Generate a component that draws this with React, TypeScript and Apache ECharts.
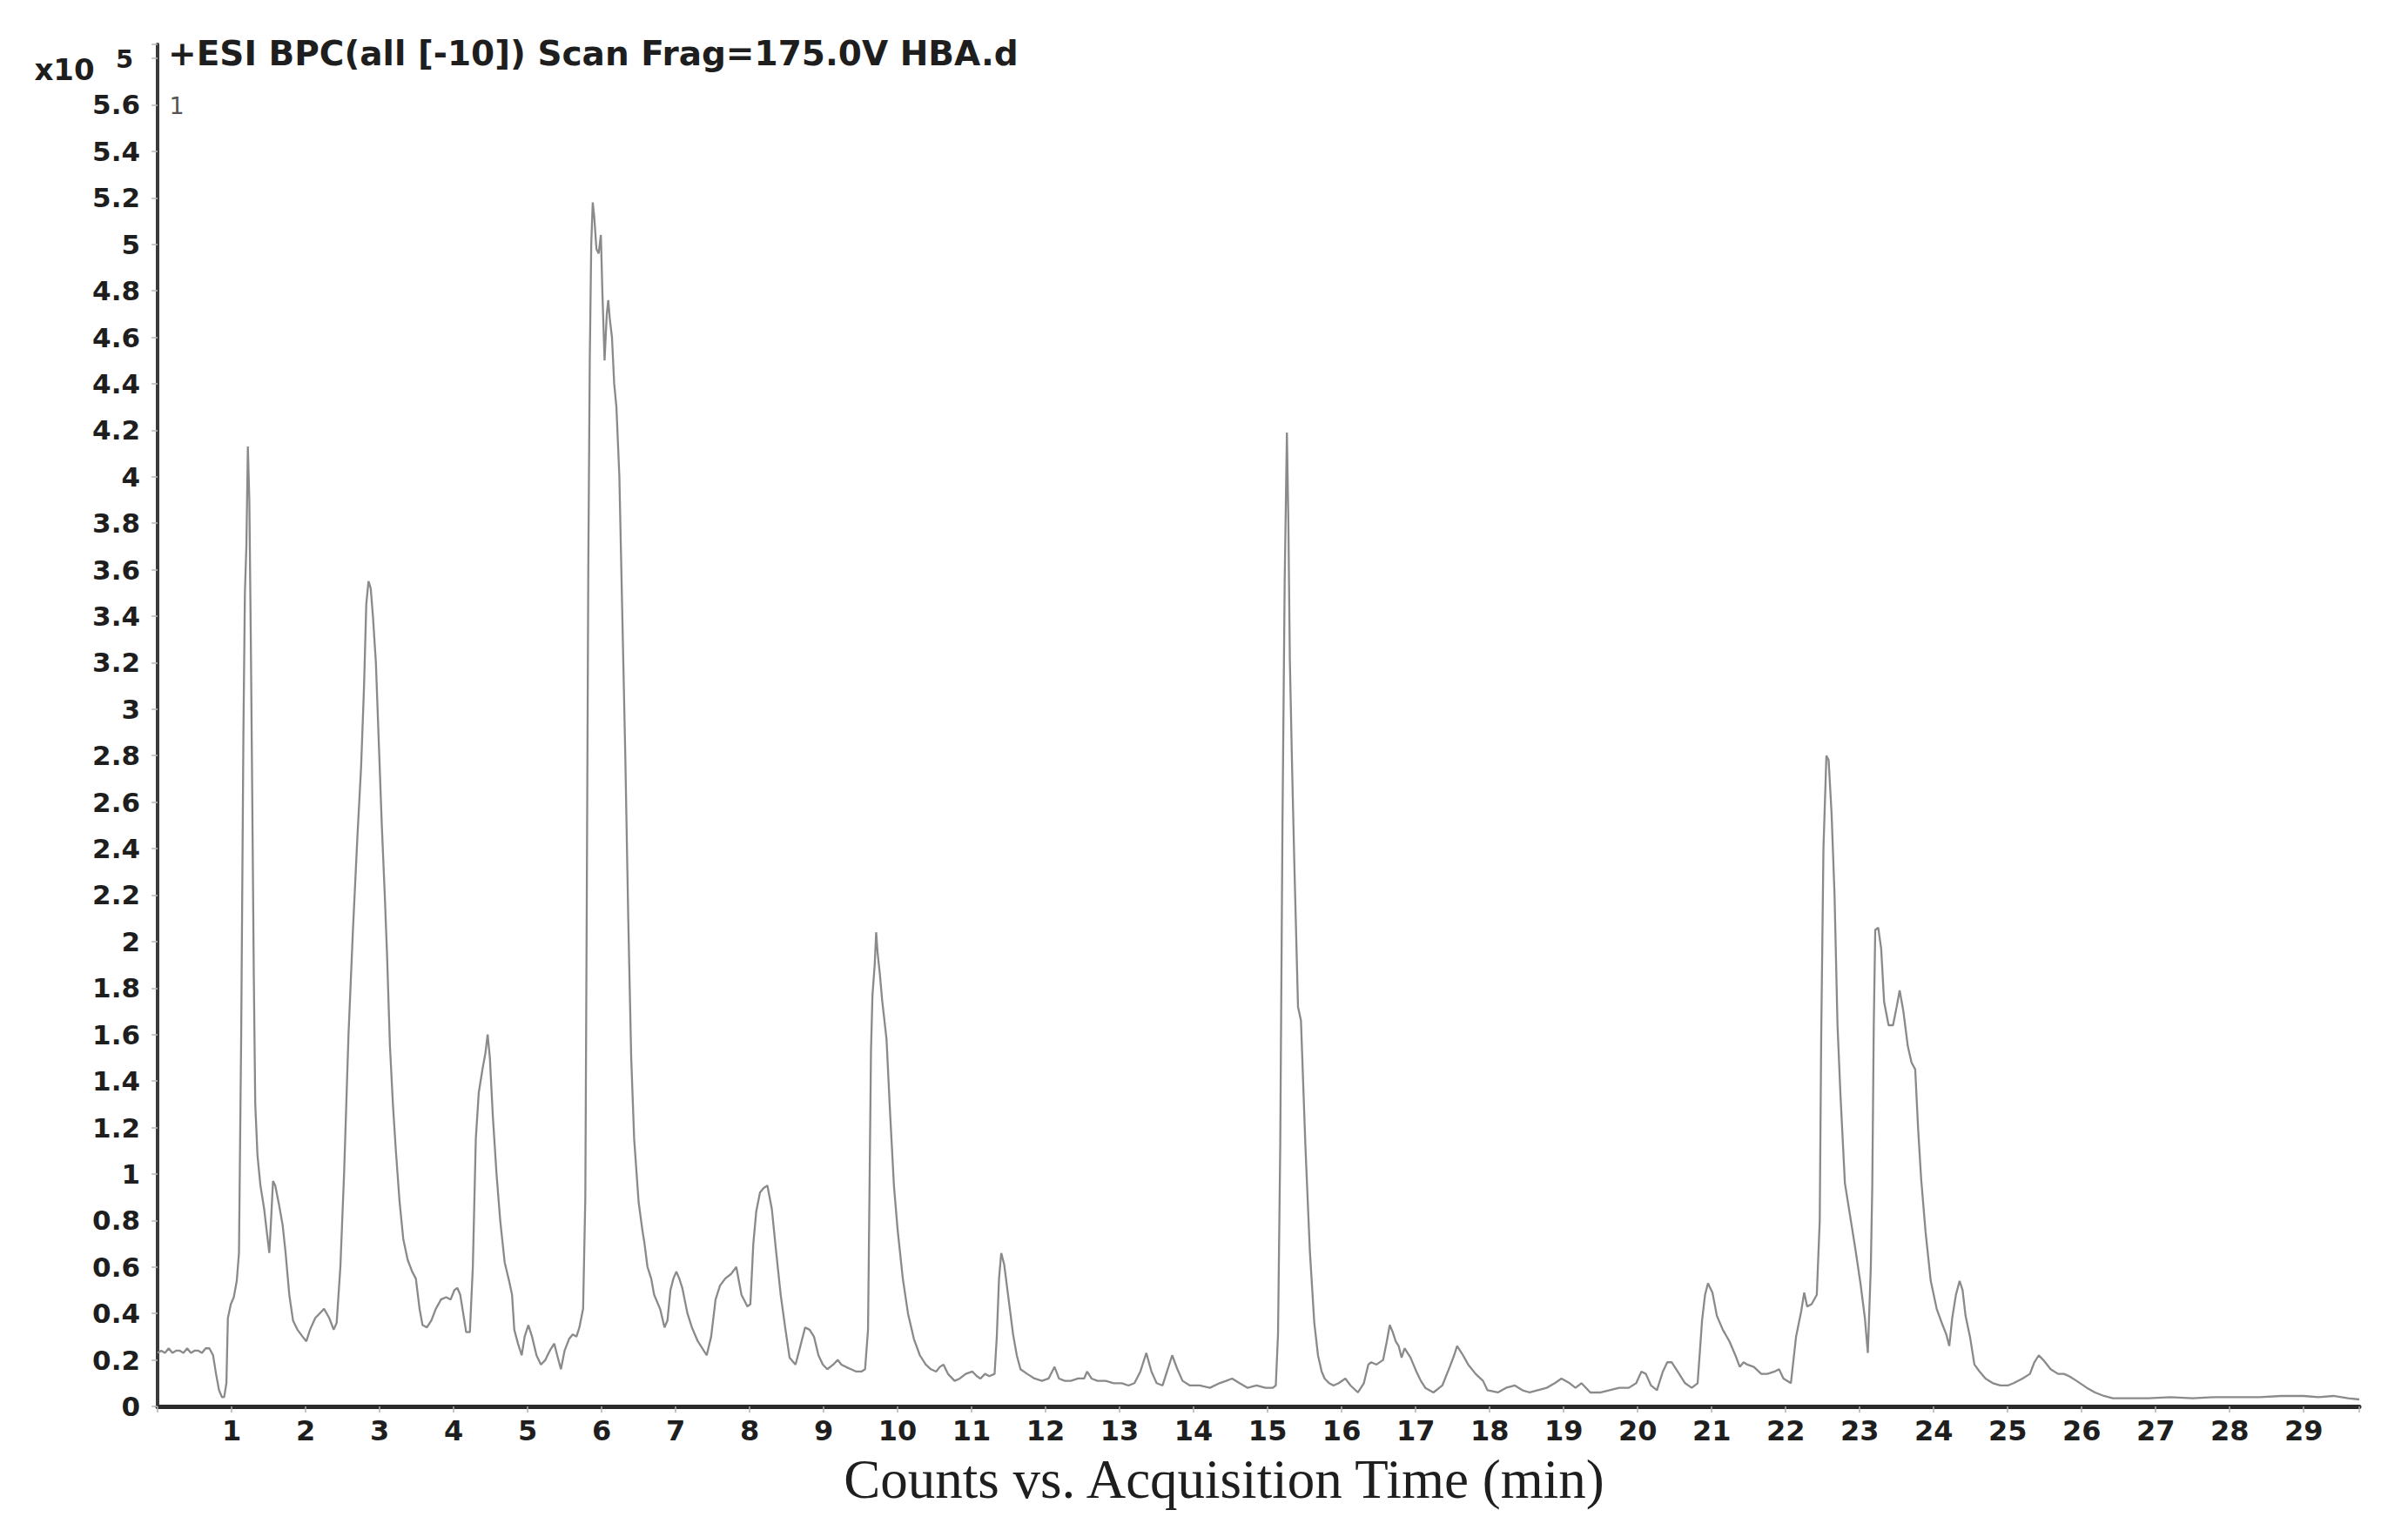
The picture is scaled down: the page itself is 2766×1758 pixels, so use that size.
import React, { useEffect, useRef } from 'react';
import * as echarts from 'echarts';

const TITLE = '+ESI BPC(all [-10]) Scan Frag=175.0V HBA.d';
const X_AXIS_TITLE = 'Counts vs. Acquisition Time (min)';
const Y_SCALE_PREFIX = 'x10';
const Y_SCALE_EXPONENT = '5';
const TRACE_LABEL = '1';

const X_MIN = 0;
const X_MAX = 29.75;
const X_INTERVAL = 1;
const Y_MIN = 0;
const Y_MAX = 5.86;
const Y_INTERVAL = 0.2;
const Y_LAST_LABEL = 5.6;

// [acquisition time (min), counts (x10^5)]
const trace0to4 = [
  [0.00, 0.23], [0.05, 0.24], [0.10, 0.23], [0.15, 0.25], [0.20, 0.23], [0.25, 0.24], [0.30, 0.24], [0.35, 0.23],
  [0.40, 0.25], [0.45, 0.23], [0.50, 0.24], [0.55, 0.24], [0.60, 0.23], [0.65, 0.25], [0.70, 0.25], [0.75, 0.22],
  [0.79, 0.14], [0.83, 0.07], [0.87, 0.04], [0.90, 0.04], [0.93, 0.10], [0.95, 0.38], [0.99, 0.44], [1.03, 0.47],
  [1.07, 0.54], [1.10, 0.66], [1.13, 1.6], [1.16, 2.9], [1.18, 3.5], [1.20, 3.7], [1.22, 4.13], [1.24, 3.9],
  [1.26, 3.3], [1.28, 2.6], [1.30, 1.86], [1.32, 1.3], [1.35, 1.08], [1.39, 0.95], [1.44, 0.85], [1.48, 0.74],
  [1.51, 0.66], [1.53, 0.78], [1.56, 0.97], [1.59, 0.95], [1.64, 0.87], [1.69, 0.78], [1.73, 0.66], [1.78, 0.48],
  [1.83, 0.37], [1.89, 0.33], [1.96, 0.30], [2.01, 0.28], [2.06, 0.33], [2.13, 0.38], [2.19, 0.40], [2.25, 0.42],
  [2.32, 0.38], [2.38, 0.33], [2.42, 0.36], [2.47, 0.6], [2.52, 1.0], [2.58, 1.6], [2.64, 2.05], [2.70, 2.45],
  [2.75, 2.75], [2.79, 3.1], [2.82, 3.45], [2.85, 3.55], [2.88, 3.52], [2.91, 3.4], [2.95, 3.2], [2.99, 2.85],
  [3.03, 2.5], [3.07, 2.2], [3.10, 1.95], [3.14, 1.55], [3.18, 1.3], [3.22, 1.1], [3.27, 0.88], [3.32, 0.72],
  [3.38, 0.63], [3.44, 0.58], [3.49, 0.55], [3.54, 0.42], [3.58, 0.35], [3.64, 0.34], [3.70, 0.37], [3.76, 0.42],
  [3.83, 0.46], [3.90, 0.47], [3.96, 0.46],
];

const trace4to7 = [
  [4.01, 0.50], [4.05, 0.51], [4.09, 0.48], [4.13, 0.40], [4.17, 0.32], [4.22, 0.32], [4.26, 0.6], [4.30, 1.15],
  [4.34, 1.35], [4.39, 1.45], [4.43, 1.52], [4.46, 1.6], [4.49, 1.5], [4.53, 1.25], [4.58, 1.0], [4.63, 0.8],
  [4.69, 0.62], [4.75, 0.54], [4.79, 0.48], [4.82, 0.33], [4.87, 0.27], [4.92, 0.22], [4.96, 0.30], [5.01, 0.35],
  [5.06, 0.30], [5.12, 0.22], [5.18, 0.18], [5.24, 0.20], [5.30, 0.24], [5.36, 0.27], [5.40, 0.22], [5.45, 0.16],
  [5.50, 0.24], [5.56, 0.29], [5.61, 0.31], [5.66, 0.30], [5.70, 0.34], [5.75, 0.42], [5.78, 0.9], [5.80, 2.2],
  [5.82, 3.6], [5.84, 4.5], [5.86, 5.0], [5.88, 5.18], [5.90, 5.12], [5.93, 4.98], [5.96, 4.96], [5.99, 5.04],
  [6.01, 4.8], [6.04, 4.5], [6.07, 4.7], [6.09, 4.76], [6.11, 4.68], [6.14, 4.6], [6.17, 4.4], [6.20, 4.3],
  [6.24, 4.0], [6.28, 3.4], [6.32, 2.8], [6.36, 2.1], [6.40, 1.5], [6.44, 1.15], [6.50, 0.88], [6.55, 0.76],
  [6.58, 0.70], [6.62, 0.60], [6.67, 0.55], [6.71, 0.48], [6.79, 0.42], [6.85, 0.34], [6.89, 0.37], [6.93, 0.50],
];

const trace7to10 = [
  [6.97, 0.55], [7.01, 0.58], [7.05, 0.55], [7.09, 0.51], [7.16, 0.40], [7.22, 0.34], [7.30, 0.28], [7.36, 0.25],
  [7.42, 0.22], [7.48, 0.30], [7.54, 0.46], [7.60, 0.52], [7.67, 0.55], [7.75, 0.57], [7.82, 0.60], [7.89, 0.48],
  [7.97, 0.43], [8.01, 0.44], [8.05, 0.70], [8.09, 0.84], [8.14, 0.92], [8.19, 0.94], [8.24, 0.95], [8.30, 0.85],
  [8.36, 0.66], [8.42, 0.48], [8.48, 0.34], [8.54, 0.21], [8.62, 0.18], [8.67, 0.24], [8.75, 0.34], [8.81, 0.33],
  [8.87, 0.30], [8.93, 0.22], [8.99, 0.18], [9.05, 0.16], [9.13, 0.18], [9.19, 0.20], [9.24, 0.18], [9.30, 0.17],
  [9.37, 0.16], [9.44, 0.15], [9.51, 0.15], [9.56, 0.16], [9.60, 0.33], [9.62, 0.93], [9.64, 1.53], [9.66, 1.77],
  [9.69, 1.9], [9.71, 2.04], [9.73, 1.95], [9.76, 1.86], [9.79, 1.75], [9.85, 1.58], [9.90, 1.25], [9.95, 0.95],
  [10.00, 0.76],
];

const trace10to15 = [
  [10.07, 0.55], [10.14, 0.40], [10.22, 0.29], [10.30, 0.22], [10.38, 0.18], [10.45, 0.16], [10.52, 0.15],
  [10.57, 0.17], [10.62, 0.18], [10.68, 0.14], [10.77, 0.11], [10.84, 0.12], [10.92, 0.14], [11.01, 0.15],
  [11.07, 0.13], [11.12, 0.12], [11.18, 0.14], [11.24, 0.13], [11.31, 0.14], [11.34, 0.30], [11.37, 0.55],
  [11.40, 0.66], [11.44, 0.61], [11.50, 0.46], [11.56, 0.31], [11.61, 0.22], [11.66, 0.16], [11.75, 0.14],
  [11.85, 0.12], [11.95, 0.11], [12.04, 0.12], [12.12, 0.17], [12.18, 0.12], [12.26, 0.11], [12.34, 0.11],
  [12.44, 0.12], [12.52, 0.12], [12.56, 0.15], [12.62, 0.12], [12.70, 0.11], [12.81, 0.11], [12.92, 0.10],
  [13.03, 0.10], [13.12, 0.09], [13.20, 0.10], [13.28, 0.15], [13.36, 0.23], [13.43, 0.15], [13.50, 0.10],
  [13.58, 0.09], [13.64, 0.15], [13.71, 0.22], [13.78, 0.16], [13.85, 0.11], [13.95, 0.09], [14.08, 0.09],
  [14.22, 0.08], [14.35, 0.10], [14.44, 0.11], [14.52, 0.12], [14.62, 0.10], [14.73, 0.08], [14.85, 0.09],
  [14.97, 0.08], [15.07, 0.08], [15.11, 0.09],
];

const trace15to20 = [
  [15.14, 0.31], [15.17, 1.12], [15.20, 2.5], [15.23, 3.55], [15.26, 4.19], [15.28, 3.8], [15.30, 3.21],
  [15.33, 2.75], [15.36, 2.34], [15.41, 1.72], [15.45, 1.66], [15.51, 1.12], [15.57, 0.67], [15.63, 0.36],
  [15.68, 0.22], [15.73, 0.15], [15.77, 0.12], [15.83, 0.10], [15.89, 0.09], [15.96, 0.10], [16.05, 0.12],
  [16.12, 0.09], [16.22, 0.06], [16.30, 0.10], [16.36, 0.18], [16.40, 0.19], [16.47, 0.18], [16.56, 0.20],
  [16.61, 0.28], [16.65, 0.35], [16.69, 0.32], [16.73, 0.28], [16.77, 0.26], [16.81, 0.21], [16.85, 0.25],
  [16.93, 0.21], [17.01, 0.15], [17.07, 0.11], [17.13, 0.08], [17.24, 0.06], [17.36, 0.09], [17.46, 0.17],
  [17.52, 0.22], [17.56, 0.26], [17.60, 0.24], [17.64, 0.22], [17.71, 0.18], [17.81, 0.14], [17.91, 0.11],
  [17.97, 0.07], [18.11, 0.06], [18.22, 0.08], [18.34, 0.09], [18.44, 0.07], [18.54, 0.06], [18.65, 0.07],
  [18.77, 0.08], [18.88, 0.10], [18.97, 0.12], [19.08, 0.10], [19.16, 0.08], [19.24, 0.10], [19.36, 0.06],
  [19.50, 0.06], [19.62, 0.07], [19.75, 0.08], [19.88, 0.08], [19.98, 0.10],
];

const trace20to25 = [
  [20.05, 0.15], [20.11, 0.14], [20.18, 0.09], [20.26, 0.07], [20.34, 0.15], [20.40, 0.19], [20.46, 0.19],
  [20.54, 0.15], [20.64, 0.10], [20.73, 0.08], [20.81, 0.10], [20.87, 0.37], [20.91, 0.48], [20.95, 0.53],
  [21.01, 0.49], [21.07, 0.39], [21.15, 0.33], [21.24, 0.28], [21.32, 0.22], [21.38, 0.17], [21.43, 0.19],
  [21.48, 0.18], [21.57, 0.17], [21.67, 0.14], [21.75, 0.14], [21.85, 0.15], [21.91, 0.16], [21.97, 0.12],
  [22.07, 0.10], [22.14, 0.30], [22.21, 0.41], [22.25, 0.49], [22.29, 0.43], [22.35, 0.44], [22.42, 0.48],
  [22.46, 0.8], [22.48, 1.6], [22.51, 2.4], [22.55, 2.8], [22.58, 2.78], [22.62, 2.55], [22.66, 2.2],
  [22.70, 1.64], [22.74, 1.34], [22.80, 0.96], [22.86, 0.84], [22.94, 0.68], [23.01, 0.53], [23.07, 0.38],
  [23.11, 0.23], [23.15, 0.6], [23.17, 0.95], [23.19, 1.64], [23.21, 2.05], [23.25, 2.06], [23.29, 1.97],
  [23.33, 1.74], [23.39, 1.64], [23.45, 1.64], [23.50, 1.72], [23.54, 1.79], [23.59, 1.70], [23.65, 1.55],
  [23.70, 1.48], [23.75, 1.45], [23.79, 1.19], [23.83, 0.98], [23.89, 0.75], [23.96, 0.54], [24.04, 0.42],
  [24.12, 0.35], [24.17, 0.31], [24.21, 0.26], [24.25, 0.38], [24.30, 0.48], [24.35, 0.54], [24.39, 0.50],
  [24.43, 0.39], [24.49, 0.30], [24.55, 0.18], [24.62, 0.15], [24.70, 0.12], [24.80, 0.10], [24.90, 0.09],
  [25.00, 0.09],
];

const trace25toEnd = [
  [25.08, 0.10], [25.20, 0.12], [25.30, 0.14], [25.36, 0.19], [25.42, 0.22], [25.48, 0.20], [25.58, 0.16],
  [25.68, 0.14], [25.76, 0.14], [25.83, 0.13], [25.93, 0.11], [26.07, 0.08], [26.18, 0.06], [26.30, 0.045],
  [26.42, 0.035], [26.60, 0.035], [26.90, 0.035], [27.20, 0.04], [27.50, 0.035], [27.80, 0.04], [28.10, 0.04],
  [28.40, 0.04], [28.70, 0.045], [29.00, 0.045], [29.20, 0.04], [29.40, 0.045], [29.60, 0.035], [29.75, 0.03],
];

const traceData = [
  ...trace0to4, ...trace4to7, ...trace7to10, ...trace10to15, ...trace15to20, ...trace20to25, ...trace25toEnd,
];

const LABEL_FONT = 'DejaVu Sans';

export default function App() {
  const ref = useRef<HTMLDivElement>(null);

  useEffect(() => {
    if (!ref.current) return;
    const chart = echarts.init(ref.current, null, { renderer: 'svg' });
    chart.setOption({
      animation: false,
      backgroundColor: '#ffffff',
      title: {
        text: TITLE,
        left: 193,
        top: 42,
        padding: 0,
        textStyle: { fontFamily: LABEL_FONT, fontWeight: 'bold', fontSize: 39, color: '#1e1e1e' },
      },
      grid: { left: 181, right: 56, top: 51, bottom: 142, containLabel: false, outerBoundsMode: 'none' },
      xAxis: {
        type: 'value',
        min: X_MIN,
        max: X_MAX,
        interval: X_INTERVAL,
        axisLine: { show: true, onZero: false, lineStyle: { color: '#2a2a2a', width: 5 } },
        axisTick: { show: true, length: 7, lineStyle: { color: '#b0b0b0', width: 1.5 } },
        splitLine: { show: false },
        axisLabel: {
          margin: 12,
          fontFamily: LABEL_FONT,
          fontWeight: 'bold',
          fontSize: 32,
          color: '#1e1e1e',
          formatter: (v: number) =>
            v >= 1 && Math.abs(v - Math.round(v)) < 1e-6 ? String(Math.round(v)) : '',
        },
      },
      yAxis: {
        type: 'value',
        min: Y_MIN,
        max: Y_MAX,
        interval: Y_INTERVAL,
        axisLine: { show: true, lineStyle: { color: '#3a3a3a', width: 4 } },
        axisTick: { show: true, length: 7, lineStyle: { color: '#b8b8b8', width: 1.5 } },
        splitLine: { show: false },
        axisLabel: {
          margin: 20,
          fontFamily: LABEL_FONT,
          fontWeight: 'bold',
          fontSize: 31,
          color: '#1e1e1e',
          formatter: (v: number) => (v <= Y_LAST_LABEL + 0.01 ? String(Math.round(v * 10) / 10) : ''),
        },
      },
      graphic: [
        {
          type: 'text',
          x: 74,
          y: 80,
          style: {
            text: Y_SCALE_PREFIX,
            fontFamily: LABEL_FONT,
            fontWeight: 'bold',
            fontSize: 34,
            fill: '#1e1e1e',
            align: 'center',
            verticalAlign: 'middle',
            textAlign: 'center',
            textVerticalAlign: 'middle',
          },
        },
        {
          type: 'text',
          x: 143,
          y: 68,
          style: {
            text: Y_SCALE_EXPONENT,
            fontFamily: LABEL_FONT,
            fontWeight: 'bold',
            fontSize: 29,
            fill: '#1e1e1e',
            align: 'center',
            verticalAlign: 'middle',
            textAlign: 'center',
            textVerticalAlign: 'middle',
          },
        },
        {
          type: 'text',
          x: 203,
          y: 121,
          style: {
            text: TRACE_LABEL,
            fontFamily: LABEL_FONT,
            fontSize: 27,
            fill: '#555555',
            align: 'center',
            verticalAlign: 'middle',
            textAlign: 'center',
            textVerticalAlign: 'middle',
          },
        },
        {
          type: 'text',
          x: 1406,
          y: 1700,
          style: {
            text: X_AXIS_TITLE,
            fontFamily: 'Liberation Serif',
            fontSize: 63,
            fill: '#1e1e1e',
            align: 'center',
            verticalAlign: 'middle',
            textAlign: 'center',
            textVerticalAlign: 'middle',
          },
        },
      ],
      series: [
        {
          type: 'line',
          data: traceData,
          showSymbol: false,
          symbol: 'none',
          smooth: false,
          silent: true,
          lineStyle: { color: '#8a8a8a', width: 2.3 },
        },
      ],
    });
    return () => chart.dispose();
  }, []);

  return (
    <div
      ref={ref}
      style={{ position: 'absolute', left: 0, top: 0, width: 2766, height: 1758, background: '#ffffff' }}
    />
  );
}
